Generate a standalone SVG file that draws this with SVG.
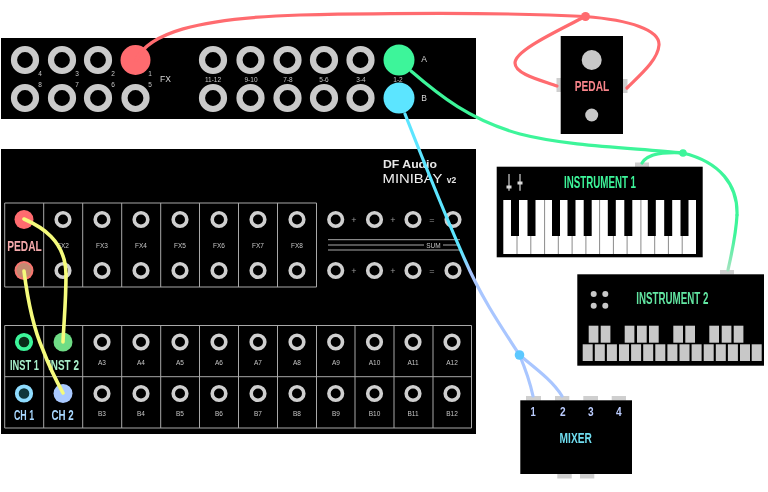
<svg xmlns="http://www.w3.org/2000/svg" width="768" height="492" viewBox="0 0 768 492">
<style>
text{font-family:"Liberation Sans",Arial,sans-serif;text-anchor:middle;filter:url(#gs)}
.panel{fill:#000}
.tab{fill:#cfcfcf}
.gr{fill:#c8c8c8}
.sm{font-size:6.5px;fill:#c4c4c4}
.md{font-size:8.5px;fill:#d8d8d8}
.op{font-size:9px;fill:#9a9a9a}
.big{fill:none;stroke:#cacaca;stroke-width:6.2}
.ring{fill:none;stroke:#cfcfcf;stroke-width:3.6}
.grid{fill:none;stroke:#a8a8a8;stroke-width:1}
.din{font-weight:700}
.cable{fill:none;stroke-linecap:round;stroke-width:3.2}
.red{stroke:#ff6b6f}
.green{stroke:#3df59a}
.yellow{stroke:#f5fb7c;stroke-width:3.6}
</style>
<defs>
<filter id="gs" x="-20%" y="-20%" width="140%" height="140%" color-interpolation-filters="sRGB"><feOffset dx="0" dy="0"/></filter>
<circle id="b" r="11" class="big"/>
<circle id="r" r="6.8" class="ring"/>
<linearGradient id="blue" gradientUnits="userSpaceOnUse" x1="399" y1="98" x2="520" y2="355">
<stop offset="0.58" stop-color="#5ce5ff"/><stop offset="0.66" stop-color="#a9c6ff"/><stop offset="1" stop-color="#a9c6ff"/>
</linearGradient>
<linearGradient id="greenfade" gradientUnits="userSpaceOnUse" x1="737" y1="220" x2="727" y2="270">
<stop offset="0.3" stop-color="#3df59a"/><stop offset="1" stop-color="#a5e3c0"/>
</linearGradient>
</defs>

<g id="top-panel">
<rect class="panel" x="1" y="38" width="475" height="81"/>
<use href="#b" x="25" y="60"/><use href="#b" x="62" y="60"/><use href="#b" x="98" y="60"/>
<circle cx="135.500" cy="60" r="15" fill="#ff6b6f"/>
<use href="#b" x="25" y="98"/><use href="#b" x="62" y="98"/><use href="#b" x="98" y="98"/><use href="#b" x="135.500" y="98"/>
<use href="#b" x="213" y="60"/><use href="#b" x="250.500" y="60"/><use href="#b" x="287.500" y="60"/><use href="#b" x="324" y="60"/><use href="#b" x="360.500" y="60"/>
<use href="#b" x="213" y="98"/><use href="#b" x="250.500" y="98"/><use href="#b" x="287.500" y="98"/><use href="#b" x="324" y="98"/><use href="#b" x="360.500" y="98"/>
<circle cx="399" cy="60" r="15.500" fill="#3df59a"/>
<circle cx="399" cy="98" r="15.500" fill="#5ce5ff"/>
<text class="sm" x="40" y="76">4</text><text class="sm" x="77" y="76">3</text><text class="sm" x="113" y="76">2</text><text class="sm" x="150" y="76">1</text>
<text class="sm" x="40" y="87">8</text><text class="sm" x="77" y="87">7</text><text class="sm" x="113" y="87">6</text><text class="sm" x="150" y="87">5</text>
<text class="md" x="165.500" y="82">FX</text>
<text class="sm" x="213" y="82">11-12</text><text class="sm" x="251" y="82">9-10</text><text class="sm" x="288" y="82">7-8</text><text class="sm" x="324" y="82">5-6</text><text class="sm" x="361" y="82">3-4</text><text class="sm" x="398" y="82">1-2</text>
<text class="md" x="424" y="62">A</text><text class="md" x="424" y="101">B</text>
</g>

<g id="patchbay">
<rect class="panel" x="1" y="149" width="475" height="285"/>
<text x="410" y="168" font-size="10" font-weight="700" fill="#e8e8e8" textLength="54" lengthAdjust="spacingAndGlyphs">DF Audio</text>
<text x="412.500" y="182.700" font-size="13" fill="#f0f0f0" textLength="60" lengthAdjust="spacingAndGlyphs">MINIBAY</text>
<text x="451.500" y="182.700" font-size="8.500" font-weight="700" fill="#e8e8e8">v2</text>
<path class="grid" d="M4.700 203H316.500V287H4.700ZM43.700 203V287M82.700 203V287M121.700 203V287M160.700 203V287M199.500 203V287M238.500 203V287M277.500 203V287"/>
<path class="grid" d="M4.700 325.500H471.500V428H4.700ZM4.700 376.700H471.500M43.700 325.500V428M82.700 325.500V428M121.700 325.500V428M160.700 325.500V428M199.500 325.500V428M238.500 325.500V428M277.500 325.500V428M316.500 325.500V428M355 325.500V428M394 325.500V428M433 325.500V428"/>
<path class="grid" d="M328 239.700H460M328 250H460M328 245H424M443 245H460"/>
<text class="sm" x="433.500" y="247.500">SUM</text>

<circle cx="24" cy="219.500" r="9.500" fill="#ff6b6f"/>
<circle cx="24" cy="270.500" r="9.500" fill="#f77670"/><circle cx="24" cy="270.500" r="7.500" fill="#c48a72"/>
<use href="#r" x="63" y="219.500"/><use href="#r" x="102" y="219.500"/><use href="#r" x="141" y="219.500"/><use href="#r" x="180" y="219.500"/><use href="#r" x="219" y="219.500"/><use href="#r" x="258" y="219.500"/><use href="#r" x="297" y="219.500"/>
<use href="#r" x="63" y="270.500"/><use href="#r" x="102" y="270.500"/><use href="#r" x="141" y="270.500"/><use href="#r" x="180" y="270.500"/><use href="#r" x="219" y="270.500"/><use href="#r" x="258" y="270.500"/><use href="#r" x="297" y="270.500"/>
<use href="#r" x="335.700" y="219.500"/><use href="#r" x="374.500" y="219.500"/><use href="#r" x="413" y="219.500"/><use href="#r" x="453" y="219.500"/>
<use href="#r" x="335.700" y="270.500"/><use href="#r" x="374.500" y="270.500"/><use href="#r" x="413" y="270.500"/><use href="#r" x="453" y="270.500"/>
<text class="op" x="354" y="223">+</text><text class="op" x="393" y="223">+</text><text class="op" x="432" y="223">=</text>
<text class="op" x="354" y="274">+</text><text class="op" x="393" y="274">+</text><text class="op" x="432" y="274">=</text>
<text class="sm" x="63" y="248">FX2</text><text class="sm" x="102" y="248">FX3</text><text class="sm" x="141" y="248">FX4</text><text class="sm" x="180" y="248">FX5</text><text class="sm" x="219" y="248">FX6</text><text class="sm" x="258" y="248">FX7</text><text class="sm" x="297" y="248">FX8</text>
<text class="din" transform="translate(24.500 250.500) scale(.68 1)" font-size="15" fill="#f4a9ab">PEDAL</text>

<circle cx="24" cy="342" r="7.200" fill="#0a2c1a" stroke="#3df59a" stroke-width="3.800"/>
<circle cx="63" cy="342" r="9.500" fill="#6fdc85"/>
<circle cx="24" cy="393.500" r="7.200" fill="#10353a" stroke="#8fdcff" stroke-width="3.800"/>
<circle cx="63" cy="393.500" r="9.500" fill="#a9c9ff"/>
<text class="din" transform="translate(24.500 369.500) scale(.62 1)" font-size="15" fill="#a8eec9">INST 1</text>
<text class="din" transform="translate(63.500 369.500) scale(.66 1)" font-size="15" fill="#a8eec9">INST 2</text>
<text class="din" transform="translate(24 420) scale(.59 1)" font-size="15" fill="#a8d8ff">CH 1</text>
<text class="din" transform="translate(62.500 420) scale(.65 1)" font-size="15" fill="#a8d8ff">CH 2</text>

<use href="#r" x="102" y="342"/><use href="#r" x="141" y="342"/><use href="#r" x="180" y="342"/><use href="#r" x="219" y="342"/><use href="#r" x="258" y="342"/><use href="#r" x="297" y="342"/><use href="#r" x="335.700" y="342"/><use href="#r" x="374.500" y="342"/><use href="#r" x="413" y="342"/><use href="#r" x="452" y="342"/>
<use href="#r" x="102" y="393.500"/><use href="#r" x="141" y="393.500"/><use href="#r" x="180" y="393.500"/><use href="#r" x="219" y="393.500"/><use href="#r" x="258" y="393.500"/><use href="#r" x="297" y="393.500"/><use href="#r" x="335.700" y="393.500"/><use href="#r" x="374.500" y="393.500"/><use href="#r" x="413" y="393.500"/><use href="#r" x="452" y="393.500"/>
<text class="sm" x="102" y="365">A3</text><text class="sm" x="141" y="365">A4</text><text class="sm" x="180" y="365">A5</text><text class="sm" x="219" y="365">A6</text><text class="sm" x="258" y="365">A7</text><text class="sm" x="297" y="365">A8</text><text class="sm" x="336" y="365">A9</text><text class="sm" x="374.500" y="365">A10</text><text class="sm" x="413" y="365">A11</text><text class="sm" x="452" y="365">A12</text>
<text class="sm" x="102" y="416">B3</text><text class="sm" x="141" y="416">B4</text><text class="sm" x="180" y="416">B5</text><text class="sm" x="219" y="416">B6</text><text class="sm" x="258" y="416">B7</text><text class="sm" x="297" y="416">B8</text><text class="sm" x="336" y="416">B9</text><text class="sm" x="374.500" y="416">B10</text><text class="sm" x="413" y="416">B11</text><text class="sm" x="452" y="416">B12</text>
</g>

<g id="pedal">
<rect class="tab" x="556.500" y="78" width="4.500" height="14"/><rect class="tab" x="623" y="79" width="4.500" height="14"/>
<rect class="panel" x="560.700" y="36" width="62.300" height="98"/>
<circle class="gr" cx="591.700" cy="60" r="10"/>
<circle class="gr" cx="591.700" cy="115" r="6.500"/>
<text class="din" transform="translate(592 91) scale(.68 1)" font-size="15" fill="#f8848a">PEDAL</text>
</g>

<g id="instrument-1">
<rect class="tab" x="635" y="162.500" width="14" height="4.500"/>
<rect class="panel" x="496.700" y="166.700" width="206" height="90.600"/>
<path d="M509 174V190.700M520 174V190.700" stroke="#d0d0d0" stroke-width="1.200"/>
<rect x="506.500" y="185.500" width="5" height="3" fill="#d8d8d8"/><rect x="517.500" y="181.500" width="5" height="3" fill="#d8d8d8"/>
<text class="din" x="600" y="188" font-size="16.500" fill="#3df59a" textLength="72" lengthAdjust="spacingAndGlyphs">INSTRUMENT 1</text>
<rect x="503.300" y="200" width="192.700" height="54" fill="#fff"/>
<path d="M517 200V254M530.800 200V254M544.600 200V254M558.300 200V254M572.100 200V254M585.900 200V254M599.600 200V254M613.400 200V254M627.100 200V254M640.900 200V254M654.700 200V254M668.400 200V254M682.200 200V254" stroke="#8a8a8a" stroke-width="1"/>
<g fill="#000"><rect x="511" y="200" width="8" height="36"/><rect x="527.500" y="200" width="8" height="36"/><rect x="552" y="200" width="8" height="36"/><rect x="567.500" y="200" width="8" height="36"/><rect x="583.700" y="200" width="8" height="36"/><rect x="607.800" y="200" width="8" height="36"/><rect x="624.300" y="200" width="8" height="36"/><rect x="647.800" y="200" width="8" height="36"/><rect x="664.200" y="200" width="8" height="36"/><rect x="680.500" y="200" width="8" height="36"/></g>
</g>

<g id="instrument-2">
<rect class="tab" x="720" y="270" width="14" height="4.500"/>
<rect class="panel" x="577.300" y="274.300" width="186.700" height="91.400"/>
<circle class="gr" cx="593.700" cy="294" r="3"/><circle class="gr" cx="605.300" cy="294" r="3"/><circle class="gr" cx="593.700" cy="305.700" r="3"/><circle class="gr" cx="605.300" cy="305.700" r="3"/>
<text class="din" x="672.300" y="303.700" font-size="16.500" fill="#62e6a2" textLength="72" lengthAdjust="spacingAndGlyphs">INSTRUMENT 2</text>
<g class="gr"><rect x="588.700" y="325.700" width="9.700" height="17"/><rect x="600.700" y="325.700" width="9.700" height="17"/><rect x="624.700" y="325.700" width="9.700" height="17"/><rect x="637" y="325.700" width="9.700" height="17"/><rect x="649" y="325.700" width="9.700" height="17"/><rect x="673.300" y="325.700" width="9.700" height="17"/><rect x="685.300" y="325.700" width="9.700" height="17"/><rect x="709.300" y="325.700" width="9.700" height="17"/><rect x="721.700" y="325.700" width="9.700" height="17"/><rect x="733.700" y="325.700" width="9.700" height="17"/>
<rect x="582.700" y="344.300" width="10" height="16.700"/><rect x="594.800" y="344.300" width="10" height="16.700"/><rect x="606.900" y="344.300" width="10" height="16.700"/><rect x="619" y="344.300" width="10" height="16.700"/><rect x="631.100" y="344.300" width="10" height="16.700"/><rect x="643.200" y="344.300" width="10" height="16.700"/><rect x="655.300" y="344.300" width="10" height="16.700"/><rect x="667.400" y="344.300" width="10" height="16.700"/><rect x="679.500" y="344.300" width="10" height="16.700"/><rect x="691.600" y="344.300" width="10" height="16.700"/><rect x="703.700" y="344.300" width="10" height="16.700"/><rect x="715.800" y="344.300" width="10" height="16.700"/><rect x="727.900" y="344.300" width="10" height="16.700"/><rect x="740" y="344.300" width="10" height="16.700"/><rect x="751.700" y="344.300" width="10" height="16.700"/></g>
</g>

<g id="mixer">
<rect class="tab" x="526" y="396" width="15" height="4.500"/><rect class="tab" x="555" y="396" width="14.300" height="4.500"/><rect class="tab" x="583.300" y="396" width="14.700" height="4.500"/><rect class="tab" x="611.700" y="396" width="14.300" height="4.500"/>
<rect class="tab" x="557.300" y="474" width="14.400" height="4.500"/><rect class="tab" x="580" y="474" width="14.300" height="4.500"/>
<rect class="panel" x="520.300" y="400.300" width="111.700" height="73.700"/>
<g class="din" font-size="13.500" fill="#bccdff"><text transform="translate(533 415.500) scale(.7 1)">1</text><text transform="translate(562.700 415.500) scale(.75 1)">2</text><text transform="translate(590.700 415.500) scale(.75 1)">3</text><text transform="translate(618.700 415.500) scale(.75 1)">4</text></g>
<text class="din" transform="translate(575.700 443) scale(.68 1)" font-size="15" fill="#6fdcee">MIXER</text>
</g>

<g id="connectors">
<path class="cable red" d="M136 60C148 34 195 18 300 15C400 13 500 12 585 16.500C630 20 660 30 659 45C658 60 640 75 627 88"/>
<path class="cable red" d="M585 16.500C560 30 515 50 515 63C515 74 540 80 557 86"/>
<circle cx="585.500" cy="16.500" r="4.500" fill="#ff6b6f"/>
<path class="cable" stroke="url(#greenfade)" d="M737 215C736 235 732 252 728 270"/>
<path class="cable green" d="M411 71C440 96 470 120 520 134C570 147 640 148 683 153C720 162 738 185 737 215"/>
<path class="cable green" d="M683 153C665 152 648 153 642 163"/>
<circle cx="683" cy="153" r="3.800" fill="#3df59a"/>
<path class="cable" stroke="url(#blue)" d="M405 114C425 165 445 215 465 260C480 295 500 325 519.500 355"/>
<path class="cable" stroke="#a9c6ff" d="M519.500 355C525 368 530 382 533 396"/>
<path class="cable" stroke="#a9c6ff" d="M519.500 355C535 368 552 380 562 396"/>
<circle cx="519.500" cy="355" r="4.800" fill="#5cc8ff"/>
<path class="cable yellow" d="M24 219C40 226 66 240 66 275C66 300 64 320 63 342"/>
<path class="cable yellow" d="M24 271C27 295 32 325 43 350C49 366 57 382 63 393"/>
</g>
</svg>
